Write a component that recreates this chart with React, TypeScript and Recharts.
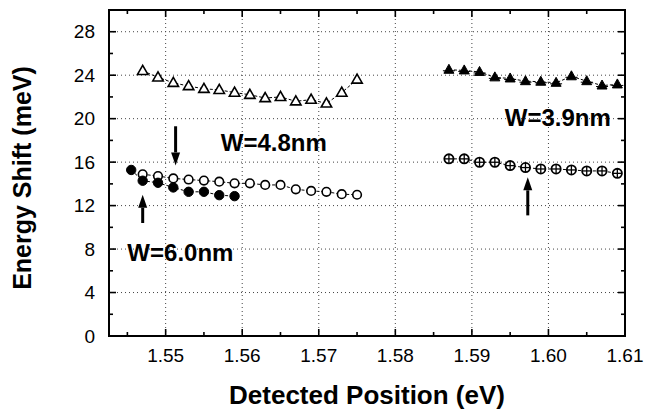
import React from 'react';
import { ScatterChart, Scatter, XAxis, YAxis, ReferenceLine, ReferenceDot, ReferenceArea } from 'recharts';

// ---- data ----
const w48X = [1.547, 1.549, 1.551, 1.553, 1.555, 1.557, 1.559, 1.561, 1.563, 1.565, 1.567, 1.569, 1.571, 1.573, 1.575];
const w48TriY = [24.4, 23.8, 23.3, 23.0, 22.75, 22.65, 22.4, 22.2, 21.9, 22.0, 21.6, 21.75, 21.4, 22.4, 23.6];
const w48CircY = [14.88, 14.72, 14.5, 14.4, 14.3, 14.2, 14.05, 14.05, 13.9, 13.9, 13.5, 13.35, 13.27, 13.05, 13.0];

const w60X = [1.5455, 1.547, 1.549, 1.551, 1.553, 1.555, 1.557, 1.559];
const w60Y = [15.28, 14.29, 14.1, 13.67, 13.27, 13.27, 12.96, 12.87];

const w39X = [1.587, 1.589, 1.591, 1.593, 1.595, 1.597, 1.599, 1.601, 1.603, 1.605, 1.607, 1.609];
const w39TriY = [24.5, 24.44, 24.3, 23.8, 23.7, 23.45, 23.4, 23.3, 23.9, 23.45, 23.05, 23.15];
const w39CircY = [16.3, 16.3, 15.99, 15.99, 15.68, 15.5, 15.37, 15.37, 15.28, 15.19, 15.19, 14.97];

const xDomain = [1.5426, 1.61];
const yDomain = [0, 30];
const xMajor = [1.55, 1.56, 1.57, 1.58, 1.59, 1.6, 1.61];
const xMinor = [1.545, 1.555, 1.565, 1.575, 1.585, 1.595, 1.605];
const yMajor = [0, 4, 8, 12, 16, 20, 24, 28];
const yMinor = [2, 6, 10, 14, 18, 22, 26];
const xTickLabels = ['1.55', '1.56', '1.57', '1.58', '1.59', '1.60', '1.61'];

const labels = [
  { text: 'W=4.8nm', x: 1.5572, y: 17.8 },
  { text: 'W=6.0nm', x: 1.545, y: 7.7 },
  { text: 'W=3.9nm', x: 1.5943, y: 20.1 },
];
const arrows = [
  { x: 1.5513, from: 19.3, to: 15.7 },
  { x: 1.547, from: 10.4, to: 13.0 },
  { x: 1.5973, from: 11.1, to: 14.6 },
];

const zip = (xs: number[], ys: number[]) => xs.map((x, i) => ({ x, y: ys[i] }));
const w48Tri = zip(w48X, w48TriY);
const w48Circ = zip(w48X, w48CircY);
const w60 = zip(w60X, w60Y);
const w39Tri = zip(w39X, w39TriY);
const w39Circ = zip(w39X, w39CircY);

const FONT = 'Liberation Sans, Arial, Helvetica, sans-serif';
const MAJ = 7;
const MIN = 4;

// tick marks drawn as reference segments anchored at data coords; length in px
const tickMark = (dx: number, dy: number) => (p: any) => (
  <line x1={p.x1} y1={p.y1} x2={p.x1 + dx} y2={p.y1 + dy} stroke="#000" strokeWidth={1.6} />
);

const XLabelTick = (p: any) => {
  const v = p.payload.value;
  const idx = xMajor.findIndex((m) => Math.abs(m - v) < 1e-6);
  return (
    <text x={p.x} y={p.y + 19} dy="0.35em" textAnchor="middle" fontFamily={FONT} fontSize={19} fill="#000">
      {idx >= 0 ? xTickLabels[idx] : ''}
    </text>
  );
};
const YLabelTick = (p: any) => (
  <text x={p.x - 14} y={p.y} dy="0.35em" textAnchor="end" fontFamily={FONT} fontSize={19} fill="#000">
    {String(p.payload.value)}
  </text>
);

// markers
const OpenTri = (p: any) => {
  const { cx, cy } = p;
  return <polygon points={`${cx},${cy - 5.5} ${cx - 5.2},${cy + 3.6} ${cx + 5.2},${cy + 3.6}`} fill="#fff" stroke="#000" strokeWidth={1.6} />;
};
const FilledTri = (p: any) => {
  const { cx, cy } = p;
  return (
    <g>
      <polygon points={`${cx},${cy - 5.5} ${cx - 5},${cy + 3.5} ${cx + 5},${cy + 3.5}`} fill="#000" stroke="#000" strokeWidth={1} />
      <line x1={cx - 6} x2={cx + 6} y1={cy + 1} y2={cy + 1} stroke="#000" strokeWidth={1} />
    </g>
  );
};
const OpenCirc = (p: any) => <circle cx={p.cx} cy={p.cy} r={4.3} fill="#fff" stroke="#000" strokeWidth={1.6} />;
const FilledCirc = (p: any) => <circle cx={p.cx} cy={p.cy} r={4.7} fill="#000" stroke="#000" strokeWidth={1} />;
const CrossCirc = (p: any) => (
  <g>
    <circle cx={p.cx} cy={p.cy} r={4.6} fill="#fff" stroke="#000" strokeWidth={1.8} />
    <line x1={p.cx - 4.6} x2={p.cx + 4.6} y1={p.cy} y2={p.cy} stroke="#000" strokeWidth={1.3} />
    <line x1={p.cx} x2={p.cx} y1={p.cy - 4.6} y2={p.cy + 4.6} stroke="#000" strokeWidth={1.3} />
  </g>
);

const arrowShape = (p: any) => {
  const { x1, y1, x2, y2 } = p;
  const dir = y2 < y1 ? -1 : 1;
  const headLen = 13;
  const headW = 4.5;
  const baseY = y2 - dir * headLen;
  return (
    <g>
      <line x1={x1} y1={y1} x2={x2} y2={baseY} stroke="#000" strokeWidth={3} />
      <polygon points={`${x2},${y2} ${x2 - headW},${baseY} ${x2 + headW},${baseY}`} fill="#000" />
    </g>
  );
};

const lineStyle = { stroke: '#000', strokeWidth: 1, strokeDasharray: '3 2' };
const gridStyle = { stroke: '#444', strokeWidth: 1, strokeDasharray: '1 3' };

export default function App() {
  const xAll = [...xMajor, ...xMinor];
  const yAll = [...yMajor, ...yMinor];
  return (
    <div style={{ position: 'absolute', left: 0, top: 0, width: 646, height: 410, background: '#fff' }}>
      <ScatterChart width={646} height={410} margin={{ top: 10, right: 21, bottom: 0, left: 0 }}>
        <XAxis
          type="number"
          dataKey="x"
          domain={xDomain}
          allowDataOverflow
          ticks={xMajor}
          interval={0}
          tickLine={false}
          tickSize={0}
          tickMargin={0}
          height={74}
          axisLine={false}
          tick={XLabelTick}
          label={{
            content: (lp: any) => {
              const vb = lp.viewBox;
              return (
                <text x={vb.x + vb.width / 2} y={vb.y + 68} textAnchor="middle" fontFamily={FONT} fontWeight="bold" fontSize={26} fill="#000">
                  Detected Position (eV)
                </text>
              );
            },
          }}
        />
        <YAxis
          type="number"
          dataKey="y"
          domain={yDomain}
          allowDataOverflow
          ticks={yMajor}
          interval={0}
          tickLine={false}
          tickSize={0}
          tickMargin={0}
          width={109}
          axisLine={false}
          tick={YLabelTick}
          label={{
            content: (lp: any) => {
              const vb = lp.viewBox;
              const cx = vb.x + 22;
              const cy = vb.y + vb.height / 2 + 5;
              return (
                <text x={cx} y={cy} transform={`rotate(-90 ${cx} ${cy})`} dy="0.35em" textAnchor="middle" fontFamily={FONT} fontWeight="bold" fontSize={25} fill="#000">
                  Energy Shift (meV)
                </text>
              );
            },
          }}
        />

        {xMajor.slice(0, -1).map((v) => (
          <ReferenceLine key={'gx' + v} x={v} {...gridStyle} />
        ))}
        {yMajor.slice(1).map((v) => (
          <ReferenceLine key={'gy' + v} y={v} {...gridStyle} />
        ))}

        <ReferenceArea x1={xDomain[0]} x2={xDomain[1]} y1={yDomain[0]} y2={yDomain[1]} fill="none" fillOpacity={0} stroke="#000" strokeWidth={2} ifOverflow="visible" />

        {xAll.map((v) => (
          <ReferenceLine
            key={'tb' + v}
            segment={[{ x: v, y: yDomain[0] }, { x: v, y: yDomain[0] + 0.001 }]}
            shape={tickMark(0, -(Math.round(v * 1000) % 10 === 0 ? MAJ : MIN))}
            ifOverflow="visible"
          />
        ))}
        {xAll.map((v) => (
          <ReferenceLine
            key={'tt' + v}
            segment={[{ x: v, y: yDomain[1] }, { x: v, y: yDomain[1] - 0.001 }]}
            shape={tickMark(0, Math.round(v * 1000) % 10 === 0 ? MAJ : MIN)}
            ifOverflow="visible"
          />
        ))}
        {yAll.map((v) => (
          <ReferenceLine
            key={'tl' + v}
            segment={[{ x: xDomain[0], y: v }, { x: xDomain[0] + 0.0001, y: v }]}
            shape={tickMark(v % 4 === 0 ? MAJ : MIN, 0)}
            ifOverflow="visible"
          />
        ))}
        {yAll.map((v) => (
          <ReferenceLine
            key={'tr' + v}
            segment={[{ x: xDomain[1], y: v }, { x: xDomain[1] - 0.0001, y: v }]}
            shape={tickMark(-(v % 4 === 0 ? MAJ : MIN), 0)}
            ifOverflow="visible"
          />
        ))}

        <Scatter data={w48Tri} line={lineStyle} lineType="joint" shape={OpenTri} isAnimationActive={false} />
        <Scatter data={w48Circ} line={lineStyle} lineType="joint" shape={OpenCirc} isAnimationActive={false} />
        <Scatter data={w60} line={lineStyle} lineType="joint" shape={FilledCirc} isAnimationActive={false} />
        <Scatter data={w39Tri} line={lineStyle} lineType="joint" shape={FilledTri} isAnimationActive={false} />
        <Scatter data={w39Circ} line={lineStyle} lineType="joint" shape={CrossCirc} isAnimationActive={false} />

        {arrows.map((a, i) => (
          <ReferenceLine key={'ar' + i} segment={[{ x: a.x, y: a.from }, { x: a.x, y: a.to }]} shape={arrowShape} />
        ))}
        {labels.map((l, i) => (
          <ReferenceDot
            key={'lb' + i}
            x={l.x}
            y={l.y}
            r={0}
            shape={(p: any) => (
              <text x={p.cx} y={p.cy} dy="0.35em" textAnchor="start" fontFamily={FONT} fontWeight="bold" fontSize={24} fill="#000">
                {l.text}
              </text>
            )}
          />
        ))}
      </ScatterChart>
    </div>
  );
}
